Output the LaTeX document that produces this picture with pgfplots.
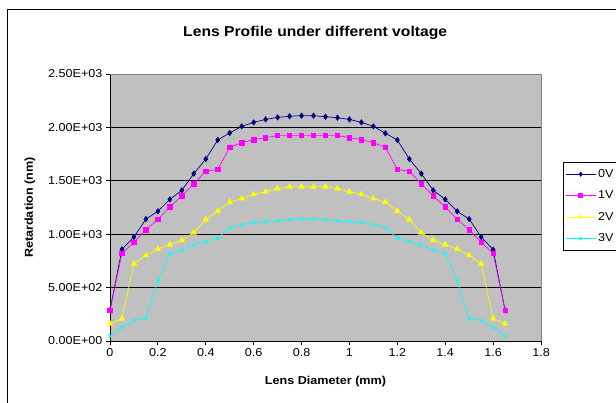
\documentclass[border=0pt]{standalone}
\usepackage{fontspec}
\setmainfont[FakeStretch=1.1]{Liberation Sans}
\usepackage{pgfplots}
\pgfplotsset{compat=1.18}
\definecolor{plotgray}{HTML}{C0C0C0}
\definecolor{c0}{HTML}{000080}
\definecolor{c1}{HTML}{FF00FF}
\definecolor{c2}{HTML}{FFFF00}
\definecolor{c3}{HTML}{00FFFF}
\begin{document}
\begin{tikzpicture}[x=1bp,y=1bp]
\path[use as bounding box] (0,0) rectangle (616,402);
\draw[black, line width=0.8pt] (7,-10) -- (7,393) -- (630,393);
\begin{axis}[
  at={(110bp,61bp)}, anchor=south west,
  width=431bp, height=267bp, scale only axis,
  xmin=0, xmax=1.8, ymin=0, ymax=2500,
  xtick={0,0.2,0.4,0.6,0.8,1,1.2,1.4,1.6,1.8},
  xticklabels={0,0.2,0.4,0.6,0.8,1,1.2,1.4,1.6,1.8},
  ytick={0,500,1000,1500,2000,2500},
  yticklabels={0.00E+00,5.00E+02,1.00E+03,1.50E+03,2.00E+03,2.50E+03},
  /pgf/number format/assume math mode=true,
  axis background/.style={fill=plotgray},
  axis x line*=bottom, axis y line*=left,
  axis line style={black, line width=0.8pt, -},
  tick align=outside, major tick length=4bp,
  tick style={black, line width=0.8pt},
  ticklabel style={font=\fontsize{11.5}{13}\selectfont},
  xlabel={Lens Diameter (mm)},
  ylabel={Retardation (nm)},
  xlabel style={font=\fontsize{11.5}{13}\selectfont\bfseries, at={(axis description cs:0.5,-0.15)}, anchor=center},
  ylabel style={font=\fontsize{11.5}{13}\selectfont\bfseries, at={(axis description cs:-0.186,0.5)}, anchor=center},
  title={Lens Profile under different voltage},
  title style={font=\fontsize{14.3}{16}\selectfont\bfseries, at={(axis description cs:0.476,1.131)}, anchor=center, yshift=0pt},
  every axis title shift/.style={yshift=0pt},
  legend style={at={(axis description cs:1.051,0.67)}, anchor=north west, draw=black, line width=0.8pt, fill=white,
    font=\fontsize{11.5}{13}\selectfont, row sep=8bp, inner xsep=2bp, inner ysep=5bp, cells={anchor=west}},
  legend image code/.code={\draw[mark repeat=2,mark phase=2,mark size=2bp] plot coordinates {(0bp,0bp) (15bp,0bp) (30bp,0bp)};},
  legend cell align=left,
  clip=false,
]
\foreach \yy in {500,1000,1500,2000} {
  \edef\tmp{\noexpand\draw[black, line width=0.8pt] (axis cs:0,\yy) -- (axis cs:1.8,\yy);}
  \tmp
}
\addplot[c0, line width=0.7pt, mark=diamond*, mark size=2.6bp, mark options={solid}] coordinates {
(0,290) (0.05,858) (0.1,974) (0.15,1142) (0.2,1214) (0.25,1326) (0.3,1411) (0.35,1567) (0.4,1704) (0.45,1882)
(0.5,1948) (0.55,2010) (0.6,2047) (0.65,2075) (0.7,2094) (0.75,2104) (0.8,2110) (0.85,2110) (0.9,2100) (0.95,2091)
(1.0,2075) (1.05,2047) (1.1,2010) (1.15,1945) (1.2,1882) (1.25,1704) (1.3,1567) (1.35,1411) (1.4,1326) (1.45,1214)
(1.5,1142) (1.55,974) (1.6,855) (1.65,287)};
\addlegendentry{0V}
\addplot[c1, line width=0.7pt, mark=square*, mark size=2.2bp] coordinates {
(0,287) (0.05,821) (0.1,924) (0.15,1042) (0.2,1139) (0.25,1255) (0.3,1358) (0.35,1473) (0.4,1589) (0.45,1607)
(0.5,1813) (0.55,1857) (0.6,1885) (0.65,1904) (0.7,1923) (0.75,1923) (0.8,1923) (0.85,1923) (0.9,1923) (0.95,1923)
(1.0,1904) (1.05,1885) (1.1,1857) (1.15,1813) (1.2,1607) (1.25,1589) (1.3,1473) (1.35,1358) (1.4,1255) (1.45,1139)
(1.5,1042) (1.55,924) (1.6,821) (1.65,287)};
\addlegendentry{1V}
\addplot[c2, line width=0.7pt, mark=triangle*, mark size=3bp] coordinates {
(0,162) (0.05,209) (0.1,724) (0.15,802) (0.2,861) (0.25,902) (0.3,943) (0.35,1014) (0.4,1136) (0.45,1217)
(0.5,1301) (0.55,1333) (0.6,1373) (0.65,1398) (0.7,1426) (0.75,1445) (0.8,1445) (0.85,1445) (0.9,1445) (0.95,1426)
(1.0,1398) (1.05,1373) (1.1,1333) (1.15,1301) (1.2,1217) (1.25,1136) (1.3,1014) (1.35,943) (1.4,902) (1.45,861)
(1.5,802) (1.55,724) (1.6,209) (1.65,162)};
\addlegendentry{2V}
\addplot[c3, line width=0.7pt, mark=x, mark size=2.6bp] coordinates {
(0,44) (0.05,128) (0.1,194) (0.15,209) (0.2,565) (0.25,821) (0.3,849) (0.35,902) (0.4,930) (0.45,964)
(0.5,1061) (0.55,1089) (0.6,1108) (0.65,1117) (0.7,1127) (0.75,1136) (0.8,1142) (0.85,1142) (0.9,1136) (0.95,1127)
(1.0,1117) (1.05,1108) (1.1,1089) (1.15,1061) (1.2,964) (1.25,930) (1.3,902) (1.35,849) (1.4,821) (1.45,565)
(1.5,209) (1.55,194) (1.6,128) (1.65,44)};
\addlegendentry{3V}
\draw[black!50, line width=0.8pt] (axis cs:0,2500) -- (axis cs:1.8,2500) -- (axis cs:1.8,0);
\end{axis}
\end{tikzpicture}
\end{document}
